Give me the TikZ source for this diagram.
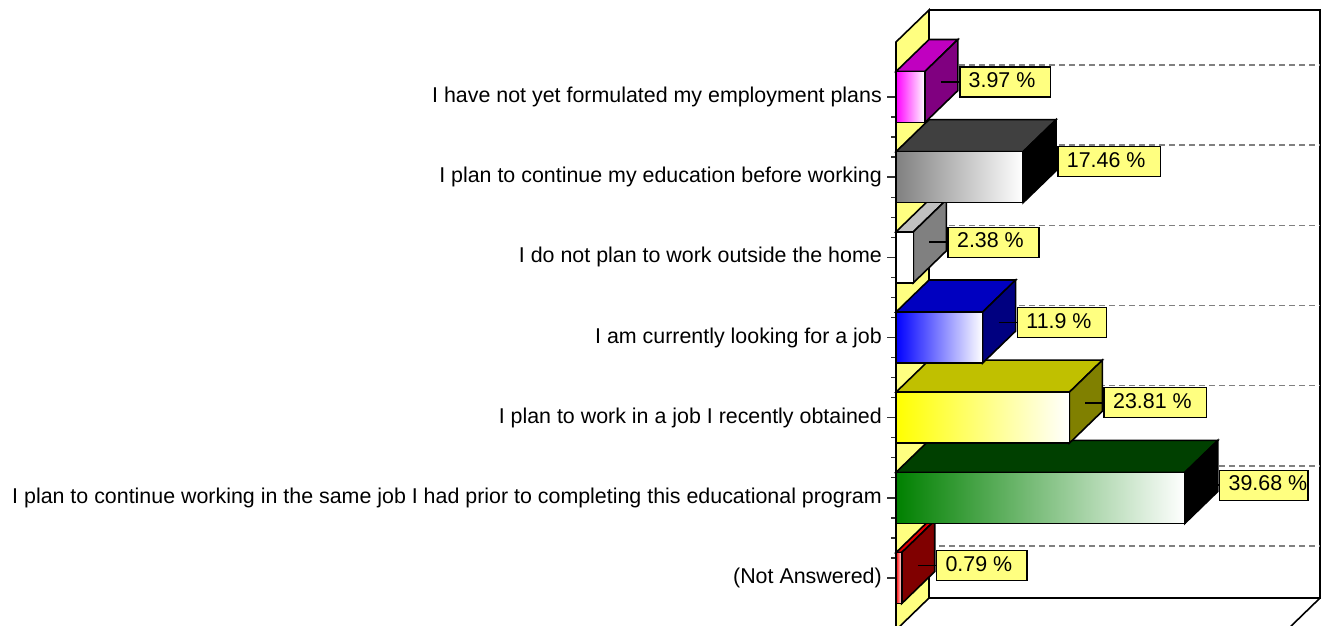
\documentclass[tikz,border=0pt]{standalone}
\usepackage{fontspec}
\setmainfont{Liberation Sans}
\definecolor{wallyellow}{HTML}{FFFF80}
\definecolor{boxyellow}{HTML}{FFFF80}
\definecolor{gridgray}{HTML}{808080}
\definecolor{magfront}{HTML}{FF00FF}\definecolor{magtop}{HTML}{C000C0}\definecolor{magside}{HTML}{800080}
\definecolor{gryfront}{HTML}{808080}\definecolor{grytop}{HTML}{404040}\definecolor{gryside}{HTML}{000000}
\definecolor{whtfront}{HTML}{FFFFFF}\definecolor{whttop}{HTML}{C0C0C0}\definecolor{whtside}{HTML}{808080}
\definecolor{blufront}{HTML}{0000FF}\definecolor{blutop}{HTML}{0000C0}\definecolor{bluside}{HTML}{000080}
\definecolor{yelfront}{HTML}{FFFF00}\definecolor{yeltop}{HTML}{C0C000}\definecolor{yelside}{HTML}{808000}
\definecolor{grnfront}{HTML}{008000}\definecolor{grntop}{HTML}{004000}\definecolor{grnside}{HTML}{000000}
\definecolor{redfront}{HTML}{FF0000}\definecolor{redtop}{HTML}{E00000}\definecolor{redside}{HTML}{800000}
\tikzset{
  frame/.style={draw=black, line width=1.6pt},
  gridline/.style={draw=gridgray, line width=1.6pt, dash pattern=on 6pt off 4pt},
  face/.style={draw=black, line width=1.6pt, line join=miter},
  tickmark/.style={draw=black!80, line width=1.4pt},
  leader/.style={draw=black, line width=1.8pt},
  catlabel/.style={inner sep=0pt, text height=15pt, text depth=4pt, font=\fontsize{21.4}{24}\selectfont},
  valbox/.style={draw=black, line width=1.6pt, fill=boxyellow, inner sep=0pt, minimum height=30pt,
    text height=15pt, text depth=4pt, font=\fontsize{21.4}{24}\selectfont},
}
\begin{document}
\begin{tikzpicture}[x=1pt,y=-1pt]
\useasboundingbox (0,0) rectangle (1324,625);
% back frame
\draw[frame] (929,10) -- (1320,10) -- (1320,598) -- (929,598);
\draw[frame] (1320,598) -- (1287,630);
% wall
\draw[frame, fill=wallyellow] (896,42) -- (929,10) -- (929,598) -- (896,630) -- cycle;
% gridlines on back wall
\foreach \i in {0,...,6}{
  \pgfmathsetmacro\g{97+80.17*\i-32}
  \draw[gridline] (929,\g) -- (1320,\g);
}
% ticks
\foreach \k in {0,...,24}{
  \pgfmathsetmacro\t{97+20.04*\k}
  \pgfmathtruncatemacro\m{mod(\k,4)}
  \ifnum\m=0 \draw[tickmark] (887,\t) -- (896,\t); \else \draw[tickmark] (891,\t) -- (896,\t); \fi
}
% bars, bottom to top
\foreach \i/\v/\cn in {7/0.79/red, 6/39.68/grn, 5/23.81/yel, 4/11.9/blu, 3/2.38/wht, 2/17.46/gry, 1/3.97/mag}{
  \pgfmathsetmacro\c{97+80.17*(\i-1)}
  \pgfmathsetmacro\r{896+7.28*\v}
  \draw[face, fill=\cn top] (896,\c-25.5) -- (\r,\c-25.5) -- (\r+33,\c-57.5) -- (929,\c-57.5) -- cycle;
  \draw[face, fill=\cn side] (\r,\c-25.5) -- (\r+33,\c-57.5) -- (\r+33,\c-6.5) -- (\r,\c+25.5) -- cycle;
  \draw[face, left color=\cn front, right color=white] (896,\c-25.5) rectangle (\r,\c+25.5);
}
% axis front line
\draw[frame] (896,42) -- (896,630);
% value labels
\foreach \i/\v/\off/\rp in {1/3.97/15/15, 2/17.46/15.5/15, 3/2.38/15/15, 4/11.9/15/15, 5/23.81/15/15, 6/39.68/12.5/1, 7/0.79/12.5/15}{
  \pgfmathsetmacro\c{97+80.17*(\i-1)}
  \pgfmathsetmacro\r{896+7.28*\v}
  \node[valbox, anchor=west] (lab\i) at (\r+34,\c-\off) {\hspace*{9pt}\v{} \%\hspace*{\rp pt}};
  \coordinate (ld\i) at (\r+16,\c-\off);
  \draw[leader] (ld\i) -- (lab\i.west);
}
% category labels
\node[catlabel, anchor=east] (cat1) at (882,97) {I have not yet formulated my employment plans};
\node[catlabel, anchor=east] (cat2) at (882,177.17) {I plan to continue my education before working};
\node[catlabel, anchor=east] (cat3) at (882,257.34) {I do not plan to work outside the home};
\node[catlabel, anchor=east] (cat4) at (882,337.51) {I am currently looking for a job};
\node[catlabel, anchor=east] (cat5) at (882,417.68) {I plan to work in a job I recently obtained};
\node[catlabel, anchor=east] (cat6) at (882,497.85) {I plan to continue working in the same job I had prior to completing this educational program};
\node[catlabel, anchor=east] (cat7) at (882,578) {(Not Answered)};
\end{tikzpicture}
\end{document}
